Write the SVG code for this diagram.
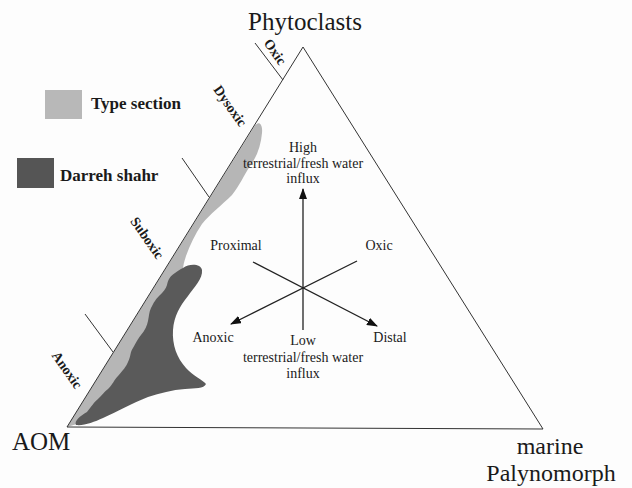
<svg xmlns="http://www.w3.org/2000/svg" width="632" height="488" viewBox="0 0 632 488">
<defs>
<style>
.t{font-family:"Liberation Serif","Times New Roman",serif;fill:#1a1a1a}
.big{font-size:25px}
.vb{font-size:24px}
.mid{font-size:14px}
.zone{font-size:14px;font-weight:bold}
.leg{font-size:17px;font-weight:bold}
.ln{stroke:#222;stroke-width:1.3;fill:none}
.edge{stroke:#333;stroke-width:1;fill:none}
</style>
<marker id="ah" markerWidth="11" markerHeight="8" refX="10" refY="4" orient="auto" markerUnits="userSpaceOnUse">
<path d="M0,0 L11,4 L0,8 Z" fill="#111"/>
</marker>
</defs>
<rect width="632" height="488" fill="#fdfdfd"/>

<g id="legend-type">
<rect x="45" y="90" width="37" height="29" fill="#b8b8b8"/>
<text class="t leg" x="91" y="109">Type section</text>
</g>
<g id="legend-darreh">
<rect x="17" y="158" width="37" height="30" fill="#555"/>
<text class="t leg" x="60" y="181">Darreh shahr</text>
</g>

<g id="region-type">
<path d="M67,427 L254,127 C258,120 263,123 262,133 C261,145 257,157 250,166 C244,175 240,185 232,195 C222,205 210,214 202,224 C195,234 190,245 186,256 C184,262 183,266 183,270 L175,300 L160,330 L150,360 L125,390 L90,420 Z" fill="#b6b6b6"/>
</g>
<g id="region-darreh">
<path d="M183,268 C190,263 201,264 202,270 C203,279 194,287 188,296 C180,306 174,316 173,330 C172,345 177,358 186,368 C193,376 203,380 206,384 C204,389 195,388 185,389 C172,390 160,393 148,397 C132,403 117,412 103,418 C94,422 84,426 76,425 C74,421 80,416 87,412 C92,406 94,402 98,399 C102,395 104,392 108,389 C113,384 114,380 118,376 C123,370 126,367 128,362 C131,356 130,352 133,348 C136,343 137,340 141,335 C145,330 147,326 148,321 C149,316 149,312 151,308 C154,302 156,299 159,296 C163,292 166,289 167,285 C168,280 170,276 175,273 C178,271 180,269 183,268 Z" fill="#5a5a5a"/>
</g>

<g id="triangle">
<path class="edge" d="M67,427 L303,47 L543,429 Z"/>
</g>

<g id="zone-ticks">
<line class="edge" x1="255" y1="43" x2="283" y2="80"/>
<line class="edge" x1="182" y1="158" x2="209" y2="197"/>
<line class="edge" x1="85" y1="314" x2="113" y2="352"/>
</g>

<g id="zone-labels">
<text class="t zone" text-anchor="middle" dominant-baseline="central" transform="translate(275,52) rotate(55)">Oxic</text>
<text class="t zone" text-anchor="middle" dominant-baseline="central" transform="translate(230,106) rotate(55)">Dysoxic</text>
<text class="t zone" text-anchor="middle" dominant-baseline="central" transform="translate(147,238) rotate(55)">Suboxic</text>
<text class="t zone" text-anchor="middle" dominant-baseline="central" transform="translate(67,370) rotate(55)">Anoxic</text>
</g>

<g id="connectors">
<line class="ln" x1="303" y1="330" x2="303" y2="189" marker-end="url(#ah)"/>
<line class="ln" x1="253" y1="262" x2="377" y2="326" marker-end="url(#ah)"/>
<line class="ln" x1="357" y1="261" x2="231" y2="324" marker-end="url(#ah)"/>
</g>

<g id="axis-labels">
<text class="t mid" text-anchor="middle" x="303" y="152">High</text>
<text class="t mid" text-anchor="middle" x="303" y="168">terrestrial/fresh water</text>
<text class="t mid" text-anchor="middle" x="303" y="183">influx</text>
<text class="t mid" text-anchor="middle" x="236" y="250">Proximal</text>
<text class="t mid" text-anchor="middle" x="379" y="250">Oxic</text>
<text class="t mid" text-anchor="middle" x="213" y="342">Anoxic</text>
<text class="t mid" text-anchor="middle" x="390" y="342">Distal</text>
<text class="t mid" text-anchor="middle" x="303" y="345">Low</text>
<text class="t mid" text-anchor="middle" x="303" y="362">terrestrial/fresh water</text>
<text class="t mid" text-anchor="middle" x="303" y="378">influx</text>
</g>

<g id="vertex-labels">
<text class="t big" text-anchor="middle" x="305" y="30">Phytoclasts</text>
<text class="t big" x="12" y="450">AOM</text>
<text class="t vb" text-anchor="middle" x="550" y="454">marine</text>
<text class="t vb" text-anchor="middle" x="551" y="481">Palynomorph</text>
</g>
</svg>
